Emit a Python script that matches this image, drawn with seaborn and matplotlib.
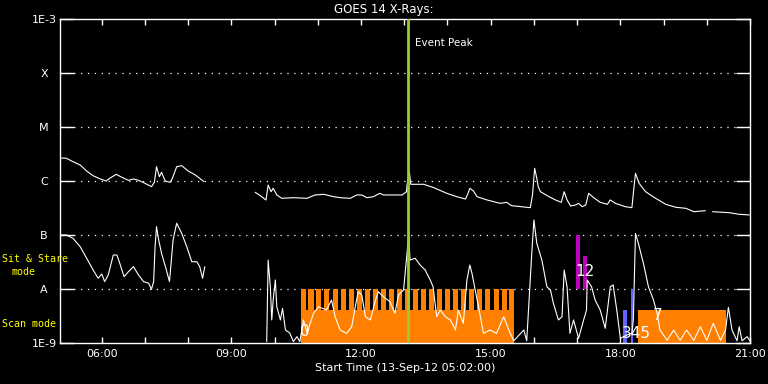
import matplotlib
matplotlib.use("Agg")
import matplotlib.pyplot as plt
import seaborn as sns
import pandas as pd
from matplotlib.ticker import FixedLocator

# ---------------- data ----------------
# GOES long channel (1-8 A), segments separated by data gaps
long_seg1_t = ["05:04", "05:11", "05:20", "05:30", "05:39", "05:48", "05:58", "06:06", "06:11", "06:20",
               "06:28", "06:37", "06:44", "06:51", "07:00", "07:09", "07:13", "07:16", "07:20", "07:23",
               "07:28", "07:35", "07:38", "07:44", "07:51", "08:00", "08:10", "08:16", "08:22"]
long_seg1_f = [2.67e-6, 2.63e-6, 2.28e-6, 1.98e-6, 1.53e-6, 1.25e-6, 1.09e-6, 1.0e-6, 1.12e-6, 1.33e-6,
               1.17e-6, 1.03e-6, 1.09e-6, 1.03e-6, 9.06e-7, 7.84e-7, 9.46e-7, 1.84e-6, 1.20e-6, 1.45e-6,
               1.0e-6, 9.46e-7, 1.12e-6, 1.84e-6, 1.92e-6, 1.53e-6, 1.29e-6, 1.12e-6, 9.7e-7]
long_seg2_t = ["09:33", "09:40", "09:48", "09:51", "09:55", "09:58", "10:03", "10:10", "10:26", "10:45",
               "10:56", "11:08", "11:22", "11:31", "11:45", "11:54", "12:01", "12:08", "12:17", "12:26",
               "12:31", "12:57", "13:03", "13:04", "13:07", "13:09", "13:27", "13:41", "13:59", "14:13",
               "14:25", "14:28", "14:31", "14:36", "14:41", "14:55", "15:13", "15:22", "15:29", "15:55",
               "15:58", "16:01", "16:04", "16:06", "16:09", "16:21", "16:30", "16:38", "16:42", "16:46",
               "16:51", "16:58", "17:02", "17:07", "17:12", "17:16", "17:23", "17:32", "17:42", "17:46",
               "17:53", "18:07", "18:16", "18:19", "18:21", "18:26", "18:35", "18:49", "19:03", "19:17",
               "19:31", "19:42", "19:58"]
long_seg2_f = [6.18e-7, 5.35e-7, 4.45e-7, 8.43e-7, 6.34e-7, 7.33e-7, 5.51e-7, 4.78e-7, 4.91e-7, 4.78e-7,
               5.51e-7, 5.67e-7, 5.12e-7, 4.91e-7, 4.78e-7, 5.51e-7, 5.51e-7, 4.91e-7, 5.12e-7, 5.92e-7,
               5.51e-7, 5.51e-7, 6.34e-7, 8.69e-7, 1.49e-6, 8.69e-7, 8.69e-7, 7.52e-7, 5.92e-7, 5.12e-7,
               4.64e-7, 5.67e-7, 7.33e-7, 6.53e-7, 5.12e-7, 4.45e-7, 3.86e-7, 4.03e-7, 3.49e-7, 3.21e-7,
               5.51e-7, 1.72e-6, 1.12e-6, 7.84e-7, 6.34e-7, 5.12e-7, 4.45e-7, 4.03e-7, 6.34e-7, 4.45e-7,
               3.44e-7, 3.60e-7, 3.86e-7, 3.34e-7, 3.60e-7, 5.92e-7, 4.91e-7, 4.03e-7, 3.70e-7, 4.45e-7,
               3.86e-7, 3.34e-7, 3.21e-7, 7.84e-7, 1.39e-6, 9.06e-7, 6.34e-7, 4.78e-7, 3.70e-7, 3.26e-7,
               3.12e-7, 2.70e-7, 2.82e-7]
long_seg3_t = ["20:08", "20:31", "20:45", "20:59"]
long_seg3_f = [2.70e-7, 2.59e-7, 2.42e-7, 2.35e-7]

# GOES short channel (0.5-4 A)
short_seg1_t = ["05:04", "05:11", "05:20", "05:30", "05:39", "05:48", "05:55", "06:00", "06:04", "06:09",
                "06:16", "06:21", "06:25", "06:31", "06:37", "06:44", "06:51", "06:58", "07:05", "07:09",
                "07:12", "07:14", "07:16", "07:19", "07:23", "07:29", "07:34", "07:39", "07:44", "07:51",
                "07:58", "08:05", "08:12", "08:16", "08:20", "08:23"]
short_seg1_f = [1.0e-7, 1.0e-7, 8.69e-8, 6.07e-8, 3.71e-8, 2.25e-8, 1.58e-8, 1.90e-8, 1.37e-8, 1.82e-8,
                4.26e-8, 4.26e-8, 2.99e-8, 1.69e-8, 2.09e-8, 2.59e-8, 1.82e-8, 1.37e-8, 1.28e-8, 9.87e-9,
                1.37e-8, 6.07e-8, 1.43e-7, 8.08e-8, 4.58e-8, 2.42e-8, 1.37e-8, 8.08e-8, 1.65e-7, 1.07e-7,
                6.07e-8, 3.2e-8, 3.2e-8, 2.59e-8, 1.58e-8, 2.59e-8]
short_seg2_t = ["09:49", "09:51", "09:54", "09:56", "09:58", "10:01", "10:03", "10:08", "10:11", "10:15",
                "10:21", "10:26", "10:31", "10:35", "10:40", "10:45", "10:54", "11:01", "11:12", "11:19",
                "11:24", "11:31", "11:40", "11:47", "11:52", "11:56", "12:01", "12:06", "12:13", "12:20",
                "12:24", "12:31", "12:40", "12:47", "12:52", "12:59", "13:04", "13:06", "13:08", "13:15",
                "13:22", "13:29", "13:36", "13:40", "13:45", "13:50", "13:57", "14:04", "14:11", "14:15",
                "14:22", "14:27", "14:31", "14:34", "14:38", "14:43", "14:50", "14:59", "15:08", "15:18",
                "15:27", "15:32", "15:46", "15:50", "15:57", "16:00", "16:04", "16:11", "16:18", "16:23",
                "16:27", "16:34", "16:39", "16:42", "16:46", "16:50", "16:55", "17:02", "17:09", "17:13",
                "17:14", "17:20", "17:25", "17:32", "17:39", "17:46", "17:50", "17:55", "18:00", "18:09",
                "18:16", "18:18", "18:21", "18:25", "18:32", "18:39", "18:46", "18:51", "18:55", "19:05",
                "19:14", "19:23", "19:32", "19:42", "19:51", "20:00", "20:09", "20:19", "20:26", "20:30",
                "20:35", "20:42", "20:45", "20:49", "20:56", "21:00"]
short_seg2_f = [1.06e-9, 3.44e-8, 1.10e-8, 2.67e-9, 6.25e-9, 1.47e-8, 4.7e-9, 2.67e-9, 4.39e-9, 1.74e-9,
                1.53e-9, 1.06e-9, 1.31e-9, 1.06e-9, 2.67e-9, 1.53e-9, 3.55e-9, 4.7e-9, 4.08e-9, 6.25e-9,
                3.07e-9, 1.74e-9, 1.51e-9, 2.0e-9, 4.7e-9, 8.92e-9, 7.74e-9, 3.07e-9, 2.67e-9, 6.25e-9,
                8.92e-9, 7.2e-9, 5.82e-9, 3.55e-9, 7.74e-9, 9.58e-9, 4.91e-8, 1.0e-7, 3.44e-8, 3.71e-8,
                2.78e-8, 2.25e-8, 1.47e-8, 1.10e-8, 3.07e-9, 4.08e-9, 3.07e-9, 2.67e-9, 1.74e-9, 4.08e-9,
                2.32e-9, 1.47e-8, 2.78e-8, 1.95e-8, 1.03e-8, 4.7e-9, 1.51e-9, 1.74e-9, 1.51e-9, 3.07e-9,
                1.51e-9, 1.10e-9, 1.74e-9, 1.10e-9, 4.58e-8, 1.90e-7, 7.02e-8, 3.44e-8, 1.10e-8, 9.58e-9,
                5.43e-9, 2.67e-9, 3.07e-9, 2.25e-8, 1.10e-8, 1.51e-9, 2.67e-9, 1.22e-9, 2.67e-9, 4.08e-9,
                1.47e-8, 1.10e-8, 6.25e-9, 4.08e-9, 1.87e-9, 1.10e-8, 1.19e-8, 4.08e-9, 1.22e-9, 1.41e-9,
                1.51e-9, 2.67e-9, 1.07e-7, 7.02e-8, 2.99e-8, 1.10e-8, 6.25e-9, 3.55e-9, 1.74e-9, 1.12e-9,
                1.74e-9, 1.12e-9, 1.74e-9, 1.12e-9, 2.0e-9, 1.12e-9, 2.32e-9, 1.12e-9, 1.74e-9, 4.58e-9,
                1.74e-9, 1.10e-9, 2.0e-9, 1.10e-9, 1.31e-9, 1.10e-9]

# Scan mode observations (comb teeth + continuous base blocks)
scan_tooth_start = ["10:36", "10:47", "10:58", "11:09", "11:21", "11:32", "11:43", "11:54", "12:05",
                    "12:16", "12:28", "12:39", "12:50", "13:01", "13:12", "13:23", "13:34", "13:46",
                    "13:57", "14:08", "14:19", "14:30", "14:41", "14:52", "15:04", "15:15", "15:26"]
scan_tooth_end = ["10:43", "10:54", "11:05", "11:16", "11:28", "11:39", "11:50", "12:01", "12:12",
                  "12:23", "12:35", "12:46", "12:57", "13:08", "13:19", "13:30", "13:41", "13:53",
                  "14:04", "14:15", "14:26", "14:37", "14:48", "14:59", "15:11", "15:22", "15:33"]
scan_tooth_top = 1e-8
scan_block_start = ["10:36", "18:25"]
scan_block_end = ["15:33", "20:27"]
scan_block_top = [4.1e-9, 4.1e-9]

# Sit & Stare observations
sit_start = ["16:59", "17:08"]
sit_end = ["17:04", "17:13"]
sit_bottom = [1e-8, 1e-8]
sit_top = [1e-7, 4.1e-8]

# other observations (blue)
other_start = ["18:04", "18:15"]
other_end = ["18:09", "18:18"]
other_top = [4.1e-9, 1e-8]

event_peak = "13:05"
obs_labels = ["0", "12", "345", "7"]
obs_label_t = ["10:42", "17:11", "18:22", "18:51"]
obs_label_f = [1.6e-9, 2.07e-8, 1.53e-9, 3.3e-9]

ytick_vals = [1e-9, 1e-8, 1e-7, 1e-6, 1e-5, 1e-4, 1e-3]
ytick_labels = ["1E-9", "A", "B", "C", "M", "X", "1E-3"]
xtick_labels = ["06:00", "09:00", "12:00", "15:00", "18:00", "21:00"]
x_start, x_end = "05:02", "21:00"


def hrs(t):
    h, m = t.split(":")
    return int(h) + int(m) / 60.0


# ---------------- plotting ----------------
sns.set_theme(style="dark")
plt.rcParams["font.family"] = ["DejaVu Sans"]
plt.rcParams["axes.facecolor"] = "black"
plt.rcParams["figure.facecolor"] = "black"

fig = plt.figure(figsize=(7.68, 3.84), dpi=100)
ax = fig.add_axes([60 / 768, 41 / 384, 690 / 768, 324 / 384])
ax.set_facecolor("black")
ax.set_yscale("log")
ax.set_ylim(1e-9, 1e-3)
ax.set_xlim(hrs(x_start), hrs(x_end))

# grid lines at class levels
for v in ytick_vals[1:-1]:
    ax.axhline(v, color="white", lw=0.9, ls=(0, (1, 4.5)), zorder=1)

orange = "#ff8000"
for s, e in zip(scan_tooth_start, scan_tooth_end):
    ax.bar(hrs(s), scan_tooth_top - 1e-9, width=hrs(e) - hrs(s), bottom=1e-9,
           align="edge", color=orange, lw=0, zorder=2)
for s, e, t in zip(scan_block_start, scan_block_end, scan_block_top):
    ax.bar(hrs(s), t - 1e-9, width=hrs(e) - hrs(s), bottom=1e-9,
           align="edge", color=orange, lw=0, zorder=2)
for s, e, b, t in zip(sit_start, sit_end, sit_bottom, sit_top):
    ax.bar(hrs(s), t - b, width=hrs(e) - hrs(s), bottom=b,
           align="edge", color="#c000c0", lw=0, zorder=2)
for s, e, t in zip(other_start, other_end, other_top):
    ax.bar(hrs(s), t - 1e-9, width=hrs(e) - hrs(s), bottom=1e-9,
           align="edge", color="#6464ff", lw=0, zorder=2)

rows = []
segs = [("l1", long_seg1_t, long_seg1_f), ("l2", long_seg2_t, long_seg2_f),
        ("l3", long_seg3_t, long_seg3_f), ("s1", short_seg1_t, short_seg1_f),
        ("s2", short_seg2_t, short_seg2_f)]
for name, ts, fs in segs:
    for i, (t, f) in enumerate(zip(ts, fs)):
        rows.append({"seg": name, "order": i, "time": hrs(t), "flux": f})
df = pd.DataFrame(rows)
sns.lineplot(data=df, x="time", y="flux", units="seg", estimator=None, sort=False,
             color="white", lw=0.8, ax=ax, legend=False, zorder=3)

ax.axvline(hrs(event_peak), color="#9acd32", lw=2.0, zorder=4)
ax.text(hrs(event_peak) + 0.17, 10 ** (-3 - 24 / 54), "Event Peak", color="white",
        fontsize=7.5, va="center", ha="left")

for lab, t, f in zip(obs_labels, obs_label_t, obs_label_f):
    ax.text(hrs(t), f, lab, color="white", fontsize=11, ha="center", va="center", zorder=5)

# axes styling
for sp in ax.spines.values():
    sp.set_color("white")
    sp.set_linewidth(1.0)
ax.set_yticks(ytick_vals)
ax.set_yticklabels(ytick_labels)
ax.yaxis.set_minor_locator(FixedLocator([]))
ax.tick_params(axis="y", which="major", direction="in", length=10, width=1, color="white",
               labelcolor="white", labelsize=8, left=True, right=True, pad=11.5)
for lab in ax.get_yticklabels():
    lab.set_horizontalalignment("center")

ax.set_xticks([hrs(t) for t in xtick_labels])
ax.set_xticklabels(xtick_labels)
ax.xaxis.set_minor_locator(FixedLocator(list(range(6, 22))))
ax.tick_params(axis="x", which="both", direction="in", length=4.5, width=1, color="white",
               labelcolor="white", labelsize=8, bottom=True, top=True, pad=4)
ax.set_xlabel("Start Time (13-Sep-12 05:02:00)", color="white", fontsize=8, labelpad=3)
ax.set_ylabel("")
ax.grid(False)

fig.text(0.5, 1 - 9 / 384, "GOES 14 X-Rays:", color="white", fontsize=8.5, ha="center", va="center")
fig.text(2 / 768, 1 - 259 / 384, "Sit & Stare", color="yellow", fontsize=7.2, ha="left", va="center",
         family="DejaVu Sans Mono")
fig.text(12 / 768, 1 - 272 / 384, "mode", color="yellow", fontsize=7.2, ha="left", va="center",
         family="DejaVu Sans Mono")
fig.text(2 / 768, 1 - 324 / 384, "Scan mode", color="yellow", fontsize=7.2, ha="left", va="center",
         family="DejaVu Sans Mono")

fig.savefig("out.png", dpi=100, facecolor="black")
